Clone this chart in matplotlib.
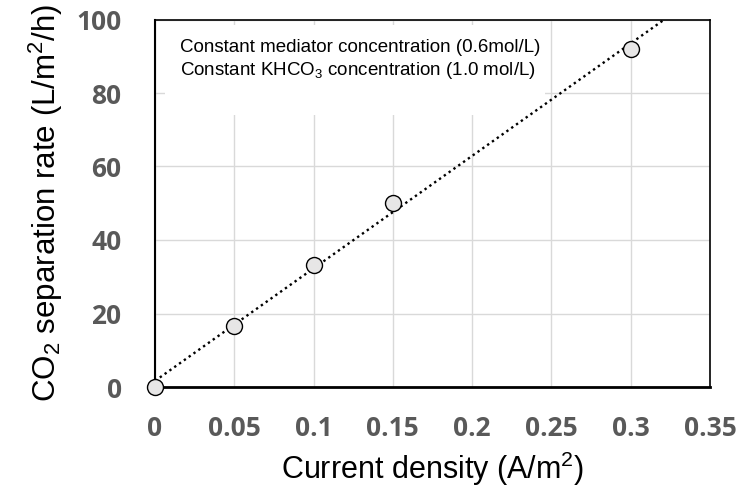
import matplotlib
matplotlib.use("Agg")
import matplotlib.pyplot as plt
from matplotlib.patches import Rectangle
import numpy as np

# data
current = np.array([0, 0.05, 0.1, 0.15, 0.3])
co2_rate = np.array([0, 16.7, 33.3, 50.0, 92.0])
xticks = [0, 0.05, 0.1, 0.15, 0.2, 0.25, 0.3, 0.35]
xtick_labels = ["0", "0.05", "0.1", "0.15", "0.2", "0.25", "0.3", "0.35"]
yticks = [0, 20, 40, 60, 80, 100]
note_lines = ["Constant mediator concentration (0.6mol/L)",
              "Constant KHCO$_3$ concentration (1.0 mol/L)"]

plt.rcParams['mathtext.fontset'] = 'custom'
plt.rcParams['mathtext.rm'] = 'Liberation Sans'
plt.rcParams['mathtext.it'] = 'Liberation Sans:italic'
plt.rcParams['mathtext.bf'] = 'Liberation Sans:bold'

fig = plt.figure(figsize=(7.44, 4.87), dpi=100)
ax = fig.add_axes([155/744, 1 - 387/487, 555/744, 367.5/487])

ax.set_xlim(0, 0.35)
ax.set_ylim(0, 100)
ax.set_axisbelow(True)
ax.grid(True, color='#d9d9d9', lw=1.0)

# linear trendline (least squares), extended to the right edge
slope, icpt = np.polyfit(current, co2_rate, 1)
xs = np.array([0, 0.35])
ax.plot(xs, slope * xs + icpt, color='black', lw=1.7, linestyle=(0, (1, 1.5)), zorder=3)

ax.plot(current, co2_rate, 'o', ms=11.5, mfc='#e7e6e6', mec='black', mew=1.0,
        clip_on=False, zorder=4, linestyle='none')

# white box behind the note (hides the grid like the original text box)
ax.add_patch(Rectangle((0.018, 0.74), 0.685, 0.245, transform=ax.transAxes,
                       facecolor='white', edgecolor='none', zorder=1))
ax.text(0.045, 0.925, note_lines[0], transform=ax.transAxes, fontsize=13.5,
        family='Liberation Sans', va='center', ha='left', zorder=5)
ax.text(0.045, 0.861, note_lines[1], transform=ax.transAxes, fontsize=13.5,
        family='Liberation Sans', va='center', ha='left', zorder=5)

ax.set_xticks(xticks)
ax.set_xticklabels(xtick_labels)
ax.set_yticks(yticks)
for lab in ax.get_xticklabels() + ax.get_yticklabels():
    lab.set_family('Open Sans')
    lab.set_fontweight('bold')
    lab.set_fontsize(19)
    lab.set_color('#595959')
ax.tick_params(axis='both', length=0)
ax.tick_params(axis='y', pad=24)
ax.tick_params(axis='x', pad=20)

ax.spines['left'].set_linewidth(1.5)
ax.spines['bottom'].set_linewidth(2.0)
ax.spines['top'].set_linewidth(1.2)
ax.spines['right'].set_linewidth(1.2)
for s in ax.spines.values():
    s.set_color('black')

ax.set_xlabel("Current density (A/m$^2$)", fontsize=22, family='Liberation Sans')
ax.set_ylabel("CO$_2$ separation rate (L/m$^2$/h)", fontsize=22.5, family='Liberation Sans')
ax.xaxis.set_label_coords(0.5, -0.17)
ax.yaxis.set_label_coords(-0.163, 0.5)

fig.savefig("out.png", dpi=100)
